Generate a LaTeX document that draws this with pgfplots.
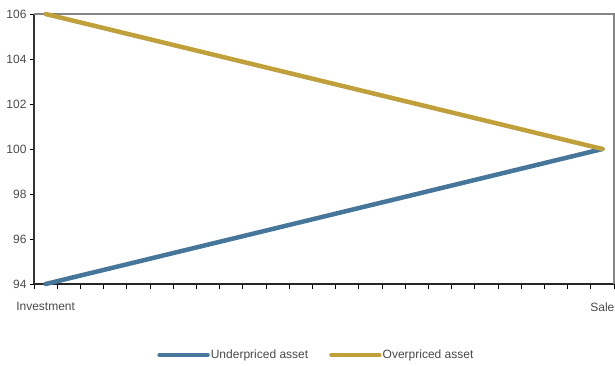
\documentclass[border=0pt]{standalone}
\usepackage{fontspec}
\setmainfont{Liberation Sans}
\usepackage{pgfplots}
\pgfplotsset{compat=1.18}
\definecolor{blueline}{HTML}{46779A}
\definecolor{goldline}{HTML}{BFA03A}
\definecolor{txt}{HTML}{4A4A4A}
\definecolor{frame}{HTML}{858585}
\begin{document}
\begin{tikzpicture}
\useasboundingbox (0,0) rectangle (615pt,365pt);
\begin{axis}[
  at={(34pt,81pt)}, anchor=south west,
  scale only axis, width=580pt, height=270pt,
  xmin=-0.5, xmax=24.5, ymin=94, ymax=106,
  axis x line*=bottom, axis y line*=left,
  ytick={94,96,...,106},
  xtick={0,24}, xticklabels={Investment,Sale},
  minor xtick={-0.5,0.5,...,24.5},
  tick align=outside,
  major tick length=4pt, minor tick length=5pt,
  major x tick style={draw=none},
  tick style={black, line width=0.8pt},
  x axis line style={line width=1.2pt, color=black!85},
  y axis line style={line width=1.8pt, color=black!80},
  /pgf/number format/assume math mode=true,
  tick label style={font=\fontsize{12}{14}\selectfont, text=txt},
  xticklabel style={yshift=-11pt},
  clip=false,
  legend style={at={(axis description cs:0.486,-0.263)}, anchor=center, draw=none,
    font=\fontsize{12}{14}\selectfont, text=txt, legend columns=2,
    nodes={inner sep=1pt},
    /tikz/every even column/.append style={column sep=20pt}},
  legend image code/.code={\draw[#1, line width=4.5pt, line cap=round] (0pt,0pt) -- (48pt,0pt);},
]
\draw[frame, line width=1.8pt] (rel axis cs:0,1) -- (rel axis cs:1,1) -- (rel axis cs:1,0);
\addplot[blueline, line width=4.5pt, line cap=round] coordinates {(0,94) (24,100)};
\addlegendentry{Underpriced asset}
\addplot[goldline, line width=4.5pt, line cap=round] coordinates {(0,106) (24,100)};
\addlegendentry{Overpriced asset}
\end{axis}
\end{tikzpicture}
\end{document}
